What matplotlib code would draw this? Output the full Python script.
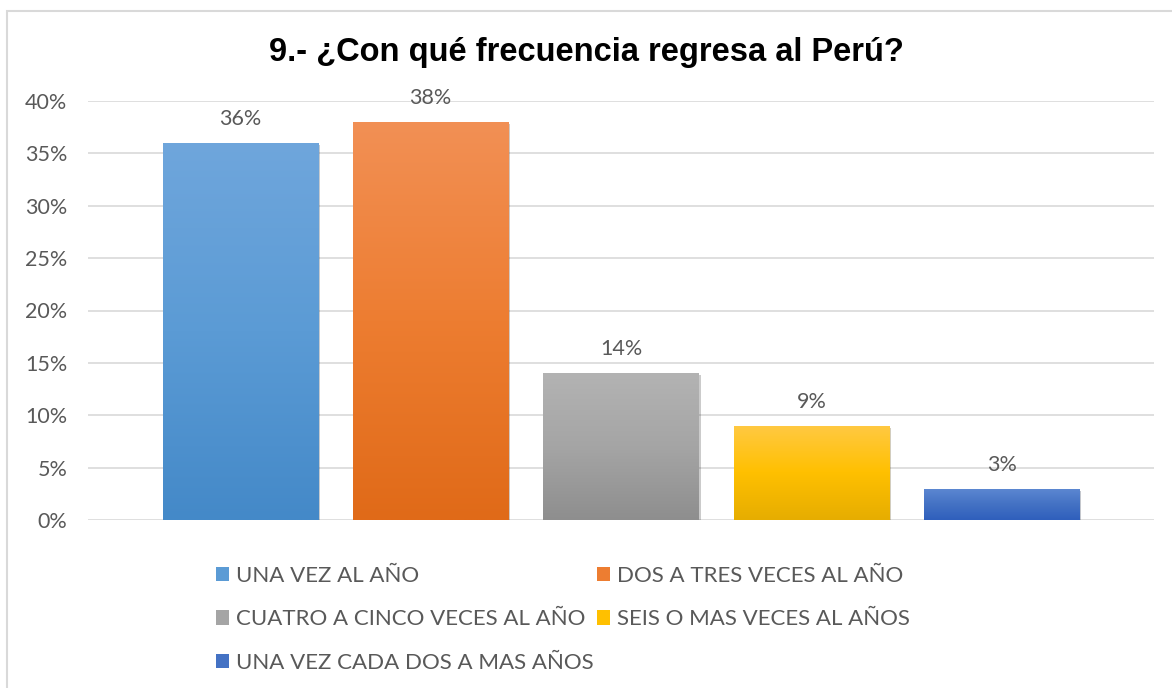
import numpy as np
import matplotlib
matplotlib.use("Agg")
import matplotlib.pyplot as plt
from matplotlib.patches import Patch, Rectangle
from matplotlib.colors import LinearSegmentedColormap
import matplotlib.patheffects as pe

# data
categories = ["UNA VEZ AL AÑO", "DOS A TRES VECES AL AÑO",
              "CUATRO A CINCO VECES AL AÑO", "SEIS O MAS VECES AL AÑOS",
              "UNA VEZ CADA DOS A MAS AÑOS"]
values = [36, 38, 14, 9, 3]
labels = ["36%", "38%", "14%", "9%", "3%"]
yticks = [0, 5, 10, 15, 20, 25, 30, 35, 40]

# top / mid / bottom colours of each gradient
grads = [("#6fa6dc", "#5b9bd5", "#4489c8"),
         ("#f29055", "#ed7d31", "#e06a18"),
         ("#b3b3b3", "#a5a5a5", "#8e8e8e"),
         ("#ffc943", "#ffc000", "#e6ad00"),
         ("#5d88d2", "#4472c4", "#2f5fbc")]

text_col = "#595959"
font = "Lato"

fig = plt.figure(figsize=(11.72, 6.88), dpi=100)
ax = fig.add_axes([88 / 1172, 1 - 520 / 688, (1154 - 88) / 1172, (520 - 101) / 688])

# frame round the chart area
fig.patches.append(Rectangle((7 / 1172, -0.01), 1.02, 1 - 11 / 688 + 0.01,
                             transform=fig.transFigure, fill=False,
                             edgecolor="#d9d9d9", linewidth=1.5))

x = np.arange(len(categories))
bars = ax.bar(x, values, width=0.816, color=[g[1] for g in grads], zorder=2,
              path_effects=[pe.SimplePatchShadow(offset=(1.5, -1.5), alpha=0.25),
                            pe.Normal()])

for b, g in zip(bars, grads):
    cmap = LinearSegmentedColormap.from_list("g", [g[2], g[1], g[0]])
    grad = np.linspace(0, 1, 256).reshape(-1, 1)
    im = ax.imshow(grad, cmap=cmap, origin="lower", aspect="auto", zorder=3,
                   extent=[b.get_x(), b.get_x() + b.get_width(), 0, b.get_height()])
    im.set_clip_path(b)

for b, lab in zip(bars, labels):
    ax.annotate(lab, (b.get_x() + b.get_width() / 2, b.get_height()),
                xytext=(0, 10), textcoords="offset points", ha="center",
                va="bottom", fontsize=15.5, color=text_col, family=font)

ax.set_xlim(-0.8, 4.8)
ax.set_ylim(0, 40)
ax.set_yticks(yticks)
ax.set_yticklabels([f"{t}%" for t in yticks], fontsize=15.5, color=text_col, family=font)
ax.set_xticks([])
ax.tick_params(axis="y", length=0, pad=15)
ax.grid(axis="y", color="#d9d9d9", linewidth=1.2, zorder=0)
ax.set_axisbelow(True)
for s in ax.spines.values():
    s.set_visible(False)

fig.text(0.5, 1 - 53 / 688, "9.- ¿Con qué frecuencia regresa al Perú?",
         ha="center", va="center", fontsize=23.5, fontweight="bold",
         family="Liberation Sans", color="#000000")

# legend is filled column by column, so reorder to read row by row
order = [0, 2, 4, 1, 3]
handles = [Patch(facecolor=grads[i][1], edgecolor="none") for i in order]
leg = fig.legend(handles, [categories[i] for i in order], ncol=2, loc="upper left",
                 bbox_to_anchor=(196 / 1172, 1 - 546 / 688), frameon=False,
                 handlelength=0.6, handleheight=0.6, handletextpad=0.3,
                 columnspacing=0.15, labelspacing=1.05,
                 prop={"family": font, "size": 16})
for t in leg.get_texts():
    t.set_color(text_col)

fig.savefig("out.png", dpi=100)
